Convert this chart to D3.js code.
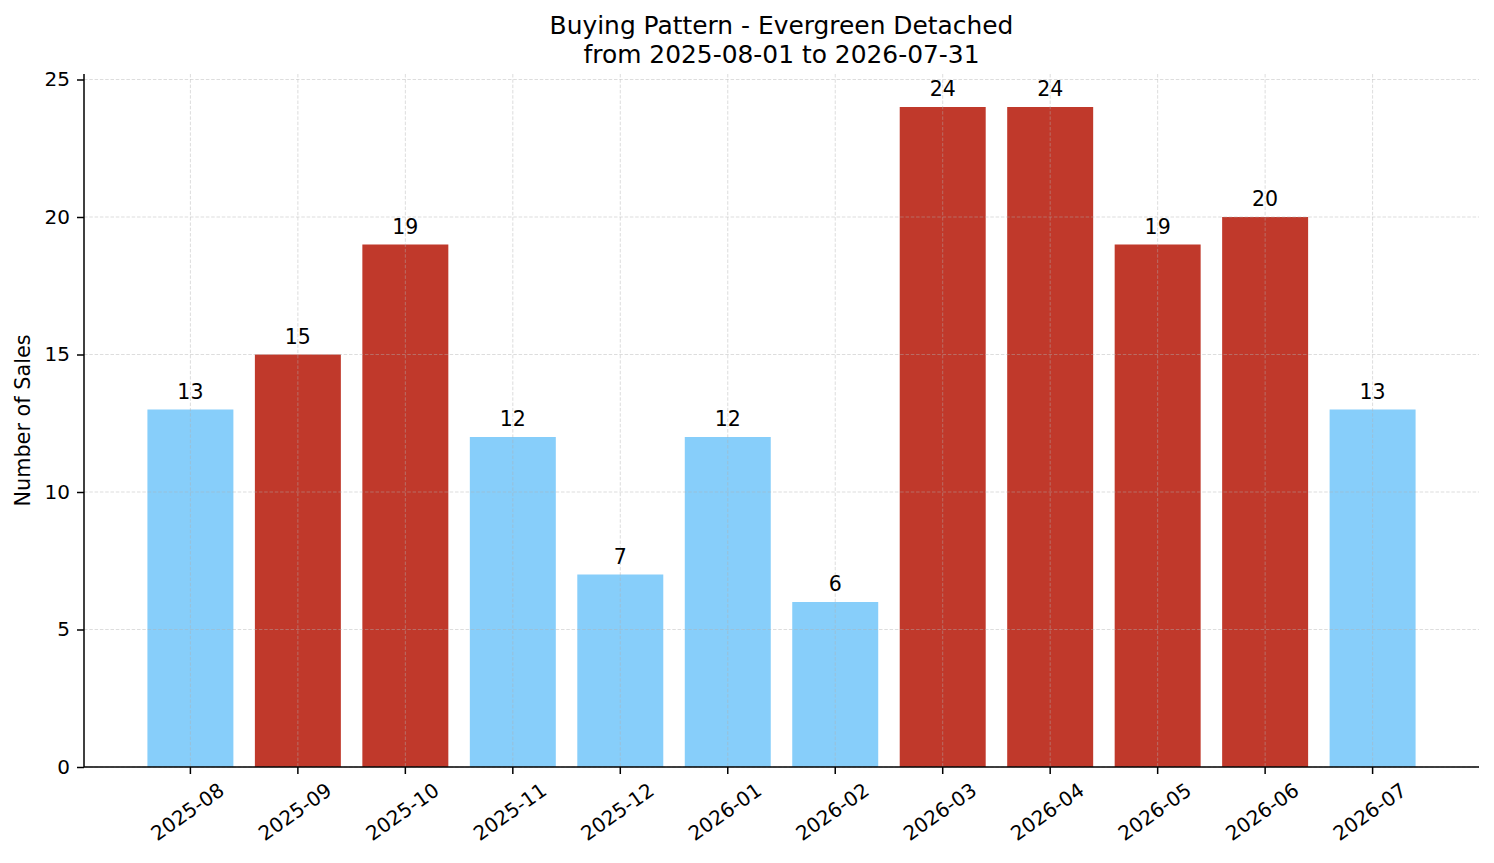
<!DOCTYPE html>
<html>
<head>
<meta charset="utf-8">
<script src="https://cdn.jsdelivr.net/npm/d3@7"></script>
<style>
  body { margin: 0; background: #fff; }
  svg { display: block; font-family: "DejaVu Sans", sans-serif; }
</style>
</head>
<body>
<script>
// data
var months = ['2025-08', '2025-09', '2025-10', '2025-11', '2025-12', '2026-01',
              '2026-02', '2026-03', '2026-04', '2026-05', '2026-06', '2026-07'];
var sales = [13, 15, 19, 12, 7, 12, 6, 24, 24, 19, 20, 13];
var yTicks = [0, 5, 10, 15, 20, 25];
var titleLines = ['Buying Pattern - Evergreen Detached', 'from 2025-08-01 to 2026-07-31'];

var width = 1494, height = 863;
var margin = { top: 74, right: 15, bottom: 96, left: 84 };
var w = width - margin.left - margin.right,
    h = height - margin.top - margin.bottom;

// bars above the median are red, the rest light blue
var median = d3.median(sales);
var colour = function (v) { return v > median ? '#c0392b' : '#87cefa'; };

var svg = d3.select('body').append('svg')
    .attr('width', width)
    .attr('height', height);

var g = svg.append('g').attr('transform', translation(margin.left, margin.top));

var x = d3.scaleBand()
    .domain(months)
    .range([0, w])
    .paddingInner(0.2)
    .paddingOuter(0.59);

var y = d3.scaleLinear()
    .domain([0, d3.max(sales) * 1.05])
    .range([h, 0]);

// bars
g.selectAll('.bar')
    .data(months)
    .enter().append('rect')
    .attr('class', 'bar')
    .attr('x', function (d) { return x(d); })
    .attr('y', function (d, i) { return y(sales[i]); })
    .attr('width', x.bandwidth())
    .attr('height', function (d, i) { return h - y(sales[i]); })
    .attr('fill', function (d, i) { return colour(sales[i]); });

// grid on top of the bars, faint dashed
var grid = g.append('g').attr('class', 'grid');
grid.selectAll('.gy')
    .data(yTicks)
    .enter().append('line')
    .attr('x1', 0).attr('x2', w)
    .attr('y1', function (d) { return y(d); })
    .attr('y2', function (d) { return y(d); });
grid.selectAll('.gx')
    .data(months)
    .enter().append('line')
    .attr('x1', function (d) { return x(d) + x.bandwidth() / 2; })
    .attr('x2', function (d) { return x(d) + x.bandwidth() / 2; })
    .attr('y1', 0).attr('y2', h);
grid.selectAll('line')
    .attr('stroke', '#b0b0b0')
    .attr('stroke-opacity', 0.55)
    .attr('stroke-width', 0.8)
    .attr('stroke-dasharray', '3.5,1.8');

// value labels
g.selectAll('.val')
    .data(months)
    .enter().append('text')
    .attr('class', 'val')
    .attr('x', function (d) { return x(d) + x.bandwidth() / 2; })
    .attr('y', function (d, i) { return y(sales[i]) - 11; })
    .attr('text-anchor', 'middle')
    .attr('font-size', '20.5px')
    .attr('fill', '#000')
    .text(function (d, i) { return sales[i]; });

// axes
var yAxis = d3.axisLeft(y)
    .tickValues(yTicks)
    .tickSize(7)
    .tickPadding(7)
    .tickFormat(d3.format('d'));

var ay = g.append('g').call(yAxis);
ay.select('.domain').attr('d', 'M0,0V' + h);

var xAxis = d3.axisBottom(x)
    .tickSize(7)
    .tickPadding(7);

var ax = g.append('g').attr('transform', translation(0, h)).call(xAxis);
ax.select('.domain').attr('d', 'M0,0H' + w);

ax.selectAll('text')
    .attr('text-anchor', 'middle')
    .attr('dy', null)
    .attr('y', 0)
    .attr('transform', 'translate(-2,46) rotate(-35)');

[ax, ay].forEach(function (a) {
    a.attr('font-family', null).attr('font-size', null);
    a.select('.domain').attr('stroke', '#000').attr('stroke-width', 1.5);
    a.selectAll('.tick line').attr('stroke', '#000').attr('stroke-width', 1.5);
    a.selectAll('.tick text').attr('fill', '#000').style('font-size', '20px');
});
ax.selectAll('.tick text').attr('dominant-baseline', 'middle');

// y label
svg.append('text')
    .attr('transform', translation(30, margin.top + h / 2) + 'rotate(-90)')
    .attr('text-anchor', 'middle')
    .attr('font-size', '20.8px')
    .text('Number of Sales');

// title
svg.append('text')
    .attr('text-anchor', 'middle')
    .attr('font-size', '24.9px')
    .selectAll('tspan')
    .data(titleLines)
    .enter().append('tspan')
    .attr('x', margin.left + w / 2)
    .attr('y', function (d, i) { return 34 + i * 28.8; })
    .text(function (d) { return d; });

function translation(x, y) {
    return 'translate(' + x + ',' + y + ')';
}
</script>
</body>
</html>
